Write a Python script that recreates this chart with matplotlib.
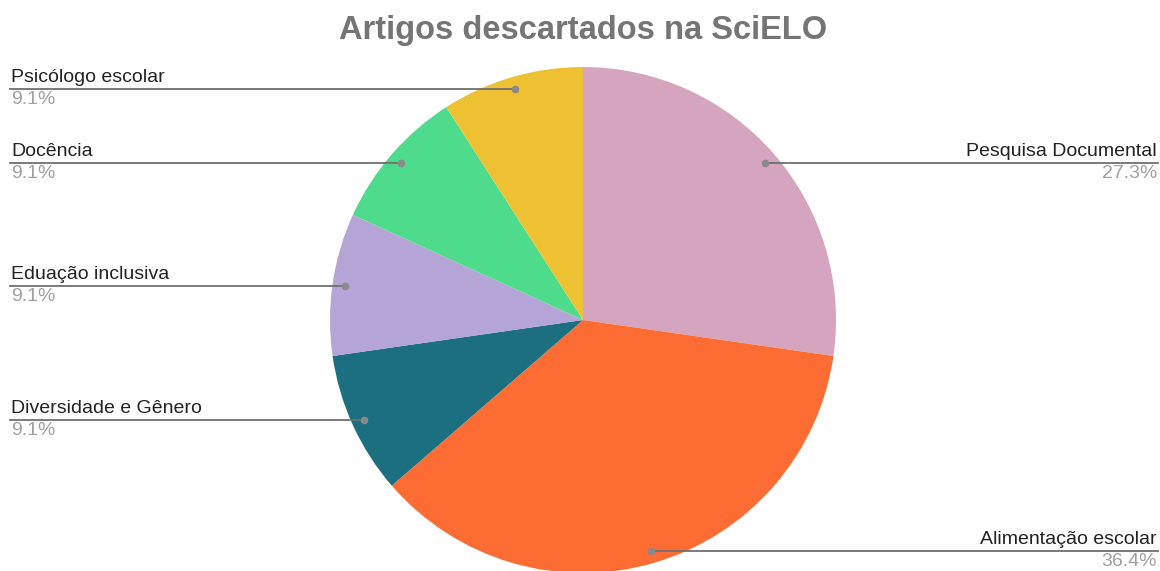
import numpy as np
import matplotlib.pyplot as plt

plt.rcParams['font.family'] = ['Liberation Sans', 'DejaVu Sans']

labels = ['Pesquisa Documental', 'Alimentação escolar', 'Diversidade e Gênero',
          'Eduação inclusiva', 'Docência', 'Psicólogo escolar']
counts = [3, 4, 1, 1, 1, 1]
colors = ['#d5a4bf', '#fd6d33', '#1b6f7f', '#b4a5d6', '#4edb8b', '#eec132']

W, H = 1160, 571
fig = plt.figure(figsize=(W / 100, H / 100), dpi=100)
ax = fig.add_axes([0, 0, 1, 1])

cx, cy, R = 583, 320, 253
# y axis is inverted (pixel coords), so increasing angle runs clockwise on screen
wedges, _ = ax.pie(counts, colors=colors, startangle=-90, counterclock=True,
                   center=(cx, cy), radius=R, frame=True,
                   wedgeprops=dict(linewidth=0))
ax.set_xlim(0, W)
ax.set_ylim(H, 0)
ax.set_aspect('equal')
ax.axis('off')

total = sum(counts)
for w, lab, c in zip(wedges, labels, counts):
    mid = np.deg2rad((w.theta1 + w.theta2) / 2)
    dx = cx + 0.95 * R * np.cos(mid)
    dy = cy + 0.95 * R * np.sin(mid)
    pct = '{:.1f}%'.format(100 * c / total)
    if dx > cx:
        xe, xt, ha = 1158, 1157, 'right'
    else:
        xe, xt, ha = 10, 11, 'left'
    ax.plot([dx, xe], [dy, dy], color='#6f6f6f', lw=1.3, zorder=3)
    ax.plot(dx, dy, 'o', color='#8a8a8a', ms=4.5, zorder=4)
    ax.text(xt, dy - 3, lab, ha=ha, va='bottom', fontsize=14, color='#222222')
    ax.text(xt, dy + 2, pct, ha=ha, va='top', fontsize=14, color='#a0a0a0')

ax.text(583, 30, 'Artigos descartados na SciELO', ha='center', va='center',
        fontsize=23.5, fontweight='bold', color='#757575')

fig.savefig('out.png', dpi=100)
